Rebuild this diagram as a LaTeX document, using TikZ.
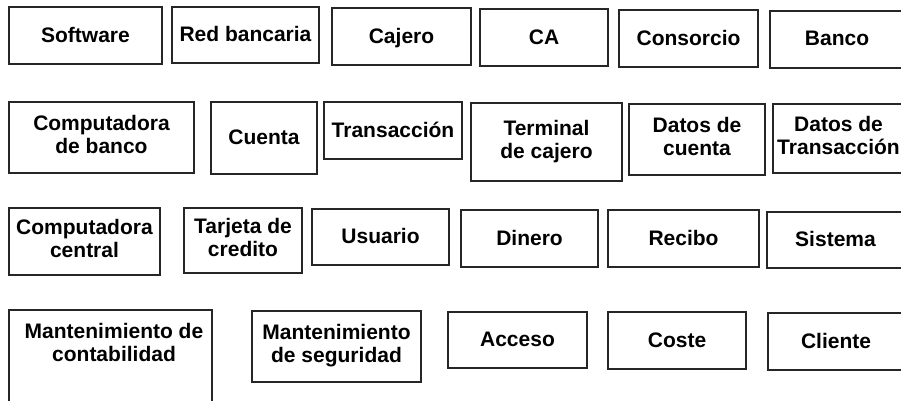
\documentclass[tikz,border=0pt]{standalone}
\usepackage{fontspec}
\setmainfont{Liberation Sans}
\tikzset{
  % caja de un concepto
  caja/.style={draw=black!85, line width=1.1pt, align=center, inner sep=2pt,
    font=\bfseries\fontsize{21}{23}\selectfont},
  % caja de una sola linea
  caja1/.style={caja, text depth=1.5pt},
  % caja de dos lineas
  caja2/.style={caja, text depth=6pt},
  % texto suelto dentro de una caja
  rotulo/.style={align=center, inner sep=0pt, font=\bfseries\fontsize{21}{23}\selectfont},
}

\begin{document}
\begin{tikzpicture}[x=1pt, y=-1pt]
  \useasboundingbox (0,0) rectangle (901,400);
  \clip (0,0) rectangle (901,400);
  % fila 1
  \node[caja1, minimum width=153pt, minimum height=57pt] (soft) at (85.5,35.5) {Software};
  \node[caja1, minimum width=147pt, minimum height=56pt] (red) at (245.5,35) {Red bancaria};
  \node[caja1, minimum width=139pt, minimum height=57pt] (cajero) at (401.5,36.5) {Cajero};
  \node[caja1, minimum width=128pt, minimum height=57pt] (ca) at (544,37.5) {CA};
  \node[caja1, minimum width=139pt, minimum height=57pt] (consorcio) at (688.5,38.5) {Consorcio};
  \node[caja1, minimum width=134pt, minimum height=57pt] (banco) at (837,39.5) {Banco};
  % fila 2
  \node[caja2, minimum width=185pt, minimum height=71pt] (compbanco) at (101.5,137.5) {Computadora\\de banco};
  \node[caja1, minimum width=106pt, minimum height=72pt] (cuenta) at (264,138) {Cuenta};
  \node[caja1, minimum width=138pt, minimum height=57pt] (transac) at (393,130.5) {Transacción};
  \node[caja2, minimum width=151pt, minimum height=78pt] (terminal) at (546.5,142) {Terminal\\de cajero};
  \node[caja2, minimum width=136pt, minimum height=71pt] (datcuenta) at (697,139.5) {Datos de\\cuenta};
  \node[caja2, minimum width=131pt, minimum height=69pt] (dattransac) at (838.5,138.5) {Datos de\\Transacción};
  % fila 3
  \node[caja2, minimum width=151pt, minimum height=67pt] (compcentral) at (84.5,241.5) {Computadora\\central};
  \node[caja2, minimum width=118pt, minimum height=65pt] (tarjeta) at (243,240.5) {Tarjeta de\\credito};
  \node[caja1, minimum width=137pt, minimum height=56pt] (usuario) at (380.5,237) {Usuario};
  \node[caja1, minimum width=137pt, minimum height=57pt] (dinero) at (529.5,238.5) {Dinero};
  \node[caja1, minimum width=151pt, minimum height=57pt] (recibo) at (683.5,238.5) {Recibo};
  \node[caja1, minimum width=137pt, minimum height=56pt] (sistema) at (835.5,240) {Sistema};
  % fila 4
  \node[caja, minimum width=203pt, minimum height=110pt,
    label={[rotulo, xshift=3.5pt, yshift=23pt]center:{Mantenimiento de\\contabilidad}}] (mcont) at (110.5,365) {};
  \node[caja2, minimum width=169pt, minimum height=71pt] (mseg) at (336.5,346.5) {Mantenimiento\\de seguridad};
  \node[caja1, minimum width=139pt, minimum height=56pt] (acceso) at (517.5,340) {Acceso};
  \node[caja1, minimum width=138pt, minimum height=57pt] (coste) at (677,340.5) {Coste};
  \node[caja1, minimum width=136pt, minimum height=57pt] (cliente) at (836,341.5) {Cliente};
\end{tikzpicture}
\end{document}
